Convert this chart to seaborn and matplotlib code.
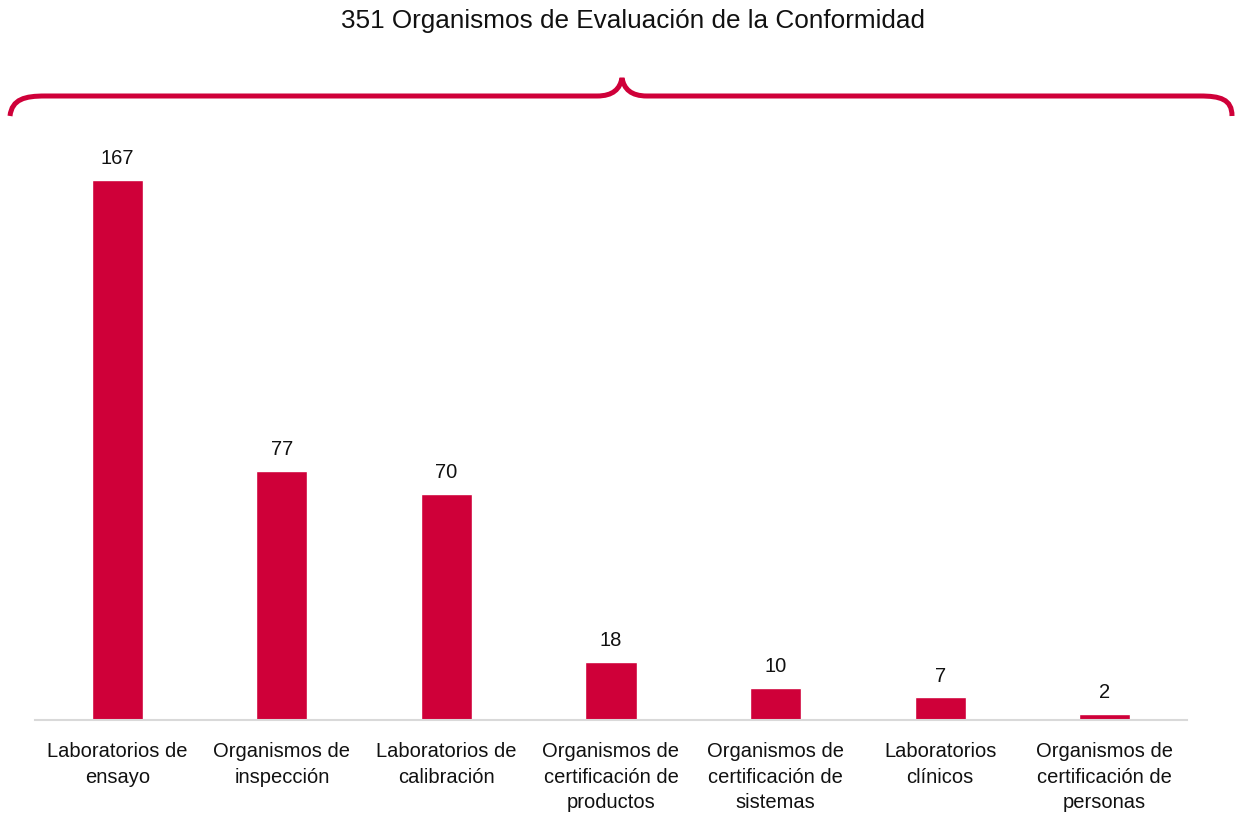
import numpy as np
import pandas as pd
import seaborn as sns
import matplotlib.pyplot as plt
from matplotlib.path import Path
from matplotlib.patches import PathPatch

sns.set_theme(style="white")
plt.rcParams['font.family'] = ['Liberation Sans Narrow', 'Liberation Sans', 'DejaVu Sans']

title = "351 Organismos de Evaluación de la Conformidad"
categories = [
    "Laboratorios de\nensayo",
    "Organismos de\ninspección",
    "Laboratorios de\ncalibración",
    "Organismos de\ncertificación de\nproductos",
    "Organismos de\ncertificación de\nsistemas",
    "Laboratorios\nclínicos",
    "Organismos de\ncertificación de\npersonas",
]
counts = [167, 77, 70, 18, 10, 7, 2]

RED = "#CF0039"
W, H = 1235, 820

df = pd.DataFrame({"tipo": categories, "n": counts})

fig = plt.figure(figsize=(W / 100, H / 100), dpi=100)
ax = fig.add_axes([35 / W, 99 / H, 1152 / W, 601 / H])

sns.barplot(data=df, x="tipo", y="n", color=RED, saturation=1, width=0.31, ax=ax)
ax.set_xlim(-0.5, len(categories) - 0.5)
ax.set_ylim(0, 601 / 3.234)
ax.bar_label(ax.containers[0], padding=9, fontsize=14.5, color="#111111")

ax.set(xlabel="", ylabel="")
ax.set_yticks([])
for s in ["top", "left", "right"]:
    ax.spines[s].set_visible(False)
ax.spines["bottom"].set_color("#D9D9D9")
ax.spines["bottom"].set_linewidth(1.5)
ax.tick_params(axis="x", length=0, pad=15, labelsize=14.5, labelcolor="#111111")
for lbl in ax.get_xticklabels():
    lbl.set_linespacing(1.45)

# curly brace over the bars, drawn in pixel space
def px(x, y):
    return (x / W, (H - y) / H)

verts = [
    px(10, 117), px(12, 100), px(25, 97), px(45, 97),
    px(597, 97),
    px(613, 97), px(620, 90), px(622, 79),
    px(624, 90), px(631, 97), px(647, 97),
    px(1200, 97),
    px(1220, 97), px(1232, 100), px(1232, 117),
]
codes = [Path.MOVETO, Path.CURVE4, Path.CURVE4, Path.CURVE4,
         Path.LINETO,
         Path.CURVE4, Path.CURVE4, Path.CURVE4,
         Path.CURVE4, Path.CURVE4, Path.CURVE4,
         Path.LINETO,
         Path.CURVE4, Path.CURVE4, Path.CURVE4]
brace = PathPatch(Path(verts, codes), transform=fig.transFigure, fill=False,
                  edgecolor=RED, linewidth=3.6, capstyle="butt")
fig.add_artist(brace)

fig.text(633 / W, (H - 21) / H, title, ha="center", va="center",
         fontsize=18.8, color="#111111")

fig.savefig("out.png", dpi=100)
